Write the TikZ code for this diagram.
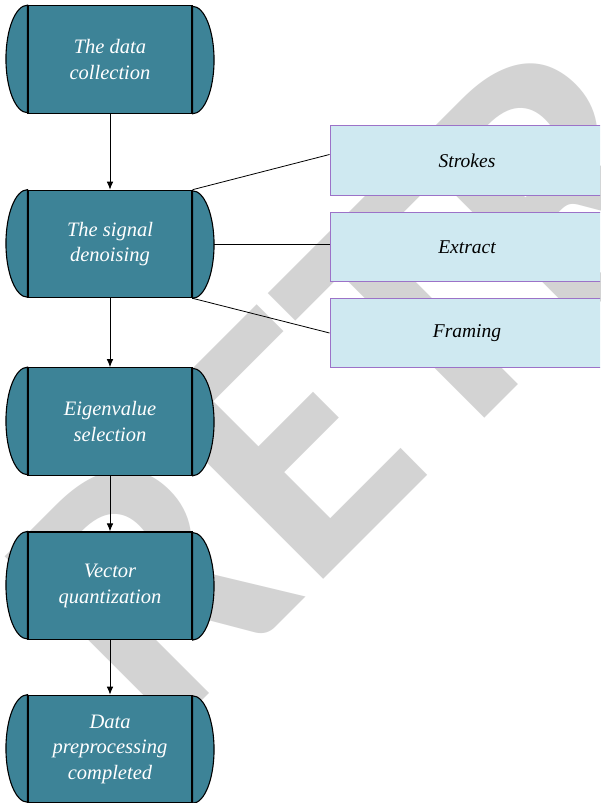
\documentclass[tikz,border=0pt]{standalone}
\usepackage{fontspec}
\setmainfont{Liberation Serif}
\newfontfamily\stampfont{Carlito}
\usetikzlibrary{arrows.meta}

\definecolor{procfill}{HTML}{3D8397}
\definecolor{subfill}{HTML}{CFE9F1}
\definecolor{subdraw}{HTML}{9C72C8}
\definecolor{stampgray}{HTML}{D3D3D3}

\tikzset{
  proc/.style={draw=black, line width=1.1pt, fill=procfill, minimum width=164pt,
    minimum height=107.5pt, inner sep=0pt, text=white, align=center,
    font=\fontsize{20.5}{25.5}\selectfont\itshape},
  capline/.style={draw=black, line width=1.1pt, fill=procfill},
  sub/.style={draw=subdraw, line width=0.9pt, fill=subfill, minimum width=274pt,
    minimum height=69.5pt, inner sep=0pt, text=black,
    font=\fontsize{19.5}{25}\selectfont\itshape},
  flow/.style={draw=black, line width=0.8pt, -{Latex[length=8pt,width=6.5pt]}},
  link/.style={draw=black, line width=0.8pt}
}

\begin{document}
\begin{tikzpicture}[x=1pt, y=1pt]
  \useasboundingbox (0,0) rectangle (600,803);
  \clip (0,0) rectangle (600,803);
  \fill[white] (0,0) rectangle (600,803);

  % stamp lettering behind the chart
  \node[anchor=base west, rotate=45, inner sep=0pt, text=stampgray,
        font=\stampfont\bfseries\fontsize{372}{372}\selectfont] (stamp) at (160,60) {RETRACTED};

  % main process column
  \node[proc] (p1) at (110,743.5) {The data\\collection};
  \node[proc] (p2) at (110,559)   {The signal\\denoising};
  \node[proc] (p3) at (110,381.5) {Eigenvalue\\selection};
  \node[proc] (p4) at (110,217.25){Vector\\quantization};
  \node[proc] (p5) at (110,54)    {Data\\preprocessing\\completed};

  % rounded end caps of every process box
  \foreach \n in {p1,p2,p3,p4,p5}{
    \path[capline] (\n.north west) arc[start angle=90, end angle=270, x radius=21.5pt, y radius=53.75pt] -- cycle;
    \path[capline] (\n.south east) arc[start angle=-90, end angle=90, x radius=21.5pt, y radius=53.75pt] -- cycle;
  }

  % denoising sub-steps
  \node[sub] (s1) at (467,642.5) {Strokes};
  \node[sub] (s2) at (467,556)   {Extract};
  \node[sub] (s3) at (467,470)   {Framing};

  % flow arrows
  \draw[flow] (p1.south) -- (p2.north);
  \draw[flow] (p2.south) -- (p3.north);
  \draw[flow] (p3.south) -- (p4.north);
  \draw[flow] (p4.south) -- (p5.north);

  % links to the sub-steps
  \coordinate (p2cap) at ([xshift=21.5pt]p2.east);
  \coordinate (s1in) at ([yshift=6pt]s1.west);
  \coordinate (s2in) at ([yshift=3pt]s2.west);
  \draw[link] (p2.north east) -- (s1in);
  \draw[link] (p2cap) -- (s2in);
  \draw[link] (p2.south east) -- (s3.west);
\end{tikzpicture}
\end{document}
